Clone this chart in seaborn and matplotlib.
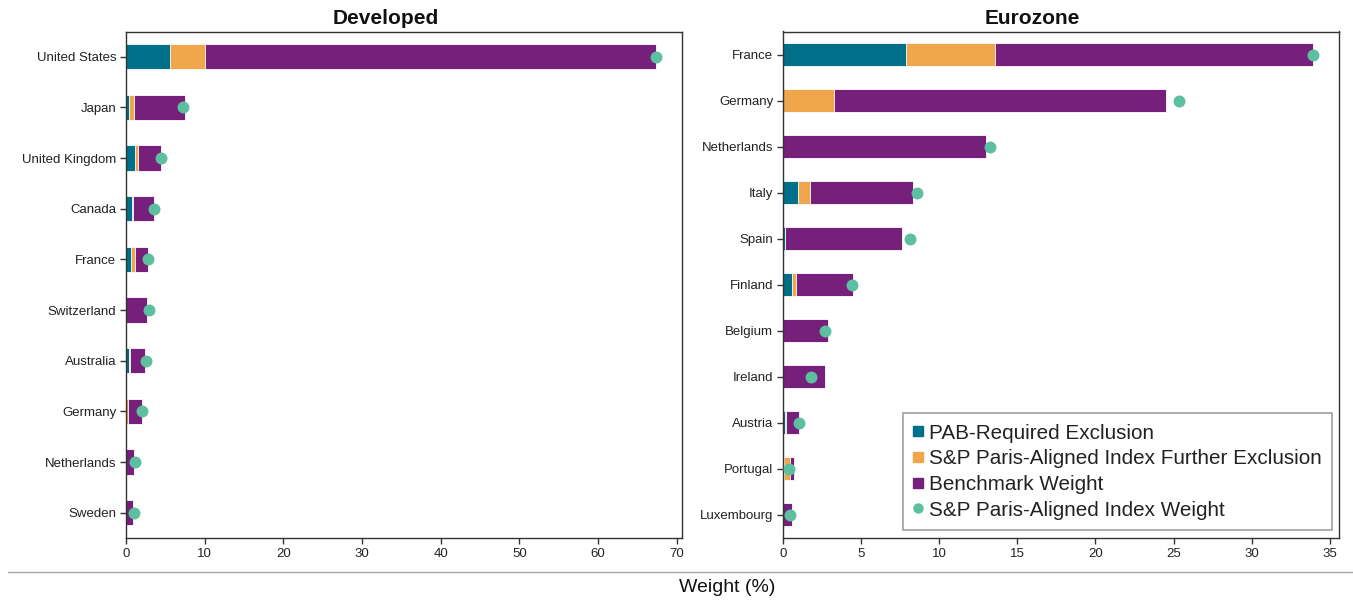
import matplotlib
matplotlib.use("Agg")
import matplotlib.pyplot as plt
from matplotlib.lines import Line2D
import numpy as np
import seaborn as sns

# Developed markets
countries_dev = ["United States", "Japan", "United Kingdom", "Canada", "France",
                 "Switzerland", "Australia", "Germany", "Netherlands", "Sweden"]
pab_dev = [5.6, 0.4, 1.15, 0.8, 0.65, 0.0, 0.35, 0.0, 0.0, 0.0]
further_dev = [4.5, 0.6, 0.4, 0.15, 0.45, 0.0, 0.2, 0.25, 0.0, 0.0]
bench_dev = [67.3, 7.45, 4.4, 3.55, 2.75, 2.7, 2.45, 2.0, 1.05, 0.95]
paris_dev = [67.3, 7.3, 4.5, 3.6, 2.8, 2.9, 2.5, 2.05, 1.1, 1.0]

# Eurozone
countries_ez = ["France", "Germany", "Netherlands", "Italy", "Spain", "Finland",
                "Belgium", "Ireland", "Austria", "Portugal", "Luxembourg"]
pab_ez = [7.85, 0.0, 0.0, 0.95, 0.15, 0.6, 0.0, 0.0, 0.1, 0.08, 0.0]
further_ez = [5.75, 3.25, 0.0, 0.8, 0.0, 0.25, 0.0, 0.0, 0.1, 0.35, 0.0]
bench_ez = [33.9, 24.5, 13.0, 8.3, 7.65, 4.45, 2.9, 2.7, 1.0, 0.72, 0.6]
paris_ez = [33.9, 25.35, 13.25, 8.55, 8.1, 4.4, 2.7, 1.8, 1.0, 0.37, 0.48]

legend_labels = ["PAB-Required Exclusion",
                 "S&P Paris-Aligned Index Further Exclusion",
                 "Benchmark Weight",
                 "S&P Paris-Aligned Index Weight"]

TEAL = "#00708A"
ORANGE = "#F0A64B"
PURPLE = "#77207B"
MINT = "#5CBF9F"

sns.set_theme(style="ticks")
plt.rcParams["font.family"] = ["Liberation Sans", "DejaVu Sans"]
plt.rcParams["axes.edgecolor"] = "#333333"
plt.rcParams["axes.linewidth"] = 1.0

W, H = 1353, 600
fig = plt.figure(figsize=(W / 100, H / 100), dpi=100)
fig.patch.set_facecolor("white")

def px_axes(x0, x1, y_top, y_bot):
    return fig.add_axes([x0 / W, 1 - y_bot / H, (x1 - x0) / W, (y_bot - y_top) / H])

ax1 = px_axes(126, 682, 31.5, 538)
ax2 = px_axes(783, 1339, 31.5, 538)


def draw_panel(ax, cats, pab, further, bench, paris):
    pab = np.asarray(pab)
    further = np.asarray(further)
    bar_kw = dict(orient="h", width=0.5, saturation=1, errorbar=None,
                  edgecolor="white", linewidth=0.6, ax=ax)
    # overlay layers: full benchmark, then cumulative exclusions on top
    sns.barplot(x=bench, y=cats, color=PURPLE, **bar_kw)
    sns.barplot(x=pab + further, y=cats, color=ORANGE, **bar_kw)
    sns.barplot(x=pab, y=cats, color=TEAL, **bar_kw)
    sns.stripplot(x=paris, y=cats, orient="h", jitter=False, size=8.6,
                  color=MINT, linewidth=0, ax=ax, zorder=4)
    ax.set_xlabel("")
    ax.set_ylabel("")
    ax.tick_params(axis="both", labelsize=9.5, length=4, width=1,
                   color="#333333", labelcolor="#222222", pad=3)
    for sp in ax.spines.values():
        sp.set_visible(True)


draw_panel(ax1, countries_dev, pab_dev, further_dev, bench_dev, paris_dev)
draw_panel(ax2, countries_ez, pab_ez, further_ez, bench_ez, paris_ez)

fig.text(386 / W, 1 - 18 / H, "Developed", ha="center", va="center",
         fontsize=15, fontweight="bold", color="#111111")
fig.text(1032 / W, 1 - 18 / H, "Eurozone", ha="center", va="center",
         fontsize=15, fontweight="bold", color="#111111")

handles = [
    Line2D([], [], marker="s", linestyle="", color=TEAL, markersize=6.5),
    Line2D([], [], marker="s", linestyle="", color=ORANGE, markersize=6.5),
    Line2D([], [], marker="s", linestyle="", color=PURPLE, markersize=6.5),
    Line2D([], [], marker="o", linestyle="", color=MINT, markersize=6.5),
]
leg = ax2.legend(handles, legend_labels, loc="lower right",
                 bbox_to_anchor=(0.987, 0.016), borderaxespad=0,
                 fontsize=14.9, labelspacing=0.32, handlelength=0.5,
                 handletextpad=0.25, borderpad=0.5, fancybox=False,
                 framealpha=1, edgecolor="#A0A0A0")
leg.get_frame().set_linewidth(1.2)
for t in leg.get_texts():
    t.set_color("#222222")

# separator line and shared axis label
fig.add_artist(Line2D([8 / W, 1.0], [1 - 572 / H, 1 - 572 / H],
                      transform=fig.transFigure, color="#A8A8A8", linewidth=1))
fig.text(727 / W, 1 - 587 / H, "Weight (%)", ha="center", va="center",
         fontsize=14, color="#111111")

fig.savefig("out.png", dpi=100)
